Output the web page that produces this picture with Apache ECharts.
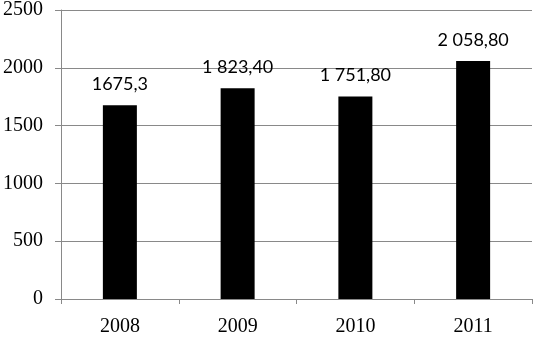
<!DOCTYPE html>
<html>
<head>
<meta charset="utf-8">
<script src="https://cdn.jsdelivr.net/npm/echarts@6/dist/echarts.min.js"></script>
<style>
  html, body { margin: 0; padding: 0; background: #fff; }
  #chart { width: 533px; height: 338px; }
</style>
</head>
<body>
<div id="chart"></div>
<script>
const years = ['2008', '2009', '2010', '2011'];
const values = [1675.3, 1823.4, 1751.8, 2058.8];
const valueLabels = ['1675,3', '1 823,40', '1 751,80', '2 058,80'];

const lineColor = '#898989';
const chart = echarts.init(document.getElementById('chart'));
chart.setOption({
  animation: false,
  grid: { left: 60, right: 1, top: 7, bottom: 39 },
  xAxis: {
    type: 'category',
    data: years,
    axisLine: { lineStyle: { color: lineColor, width: 1 } },
    axisTick: { show: true, length: 5, lineStyle: { color: lineColor } },
    axisLabel: {
      color: '#000', fontFamily: 'Liberation Serif', fontSize: 20, margin: 18
    }
  },
  yAxis: {
    type: 'value',
    min: 0,
    max: 2500,
    interval: 500,
    axisLine: { show: true, lineStyle: { color: lineColor, width: 1 } },
    axisTick: { show: true, length: 6, lineStyle: { color: lineColor } },
    splitLine: { show: true, lineStyle: { color: lineColor, width: 1 } },
    axisLabel: {
      color: '#000', fontFamily: 'Liberation Serif', fontSize: 20, margin: 18,
      formatter: v => String(v)
    }
  },
  series: [{
    type: 'bar',
    data: values,
    barWidth: 34,
    itemStyle: { color: '#000' },
    label: {
      show: true,
      position: 'top',
      distance: 12,
      color: '#000',
      fontFamily: 'Lato',
      fontSize: 18,
      formatter: p => valueLabels[p.dataIndex]
    }
  }]
});
</script>
</body>
</html>
